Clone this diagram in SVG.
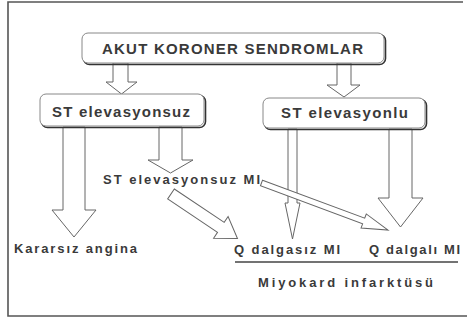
<svg xmlns="http://www.w3.org/2000/svg" width="467" height="320" viewBox="0 0 467 320">
<style>
.t{font-family:"Liberation Sans",Arial,sans-serif;font-weight:bold;fill:#3a3a3a}
.big{font-size:15px}
.sm{font-size:13px}
.box{fill:#fff;stroke:#888;stroke-width:1}
.shadow{fill:none;stroke:#333;stroke-width:1.6}
.arr{fill:#fff;stroke:#666;stroke-width:1;stroke-linejoin:miter}
.frame{fill:none;stroke:#555;stroke-width:1.6}
</style>
<rect width="467" height="320" fill="#fff"/>
<path class="frame" d="M463,2 H8 V316 H467"/>
<g id="connectors">
<polygon class="arr" points="113,63 128,63 128,82 137,82 121.5,94 106,82 113,82"/>
<polygon class="arr" points="337,63 351,63 351,85 360,85 344,97 327,85 337,85"/>
<polygon class="arr" points="63,127 85,127 85,210 96,210 74,237 52,210 63,210"/>
<polygon class="arr" points="159,127 182,127 182,160 193,160 170.5,173 148,160 159,160"/>
<polygon class="arr" points="288,129 297,129 297,203 300,203 292.5,239 285,203 288,203"/>
<polygon class="arr" points="389,129 412,129 412,198 423,198 400.5,227 378,198 389,198"/>
<polygon class="arr" transform="translate(171,194) rotate(33.8)" points="0,-6 60,-6 60,-13 80,0 60,13 60,6 0,6"/>
<polygon class="arr" transform="translate(261.5,183) rotate(20.4)" points="0,-3 109,-3 109,-7.5 135,0 109,7.5 109,3 0,3"/>
</g>
<g id="akut">
<rect class="shadow" x="83.5" y="34.5" width="302" height="30" rx="6"/>
<rect class="box" x="82" y="33" width="302" height="30" rx="6"/>
<text class="t big" x="102" y="54" textLength="261" lengthAdjust="spacing">AKUT KORONER SENDROMLAR</text>
</g>
<g id="st-elevasyonsuz">
<rect class="shadow" x="41.5" y="95.5" width="164" height="32" rx="6"/>
<rect class="box" x="40" y="94" width="164" height="32" rx="6"/>
<text class="t big" x="52" y="117" textLength="138" lengthAdjust="spacing">ST elevasyonsuz</text>
</g>
<g id="st-elevasyonlu">
<rect class="shadow" x="264.5" y="99.5" width="162" height="30" rx="6"/>
<rect class="box" x="263" y="98" width="162" height="30" rx="6"/>
<text class="t big" x="281" y="118" textLength="127" lengthAdjust="spacing">ST elevasyonlu</text>
</g>
<g id="st-elevasyonsuz-mi">
<text class="t sm" x="103" y="184" textLength="157" lengthAdjust="spacing">ST elevasyonsuz MI</text>
</g>
<g id="kararsiz-angina">
<text class="t sm" x="14" y="253" textLength="123" lengthAdjust="spacing">Kararsız angina</text>
</g>
<g id="q-dalgasiz">
<text class="t sm" x="234" y="254" textLength="106" lengthAdjust="spacing">Q dalgasız MI</text>
</g>
<g id="q-dalgali">
<text class="t sm" x="369" y="254" textLength="91" lengthAdjust="spacing">Q dalgalı MI</text>
</g>
<g id="miyokard-infarktusu">
<line x1="235" y1="262" x2="458" y2="262" stroke="#444" stroke-width="1.6"/>
<text class="t sm" x="258" y="287" textLength="175" lengthAdjust="spacing">Miyokard infarktüsü</text>
</g>
</svg>
